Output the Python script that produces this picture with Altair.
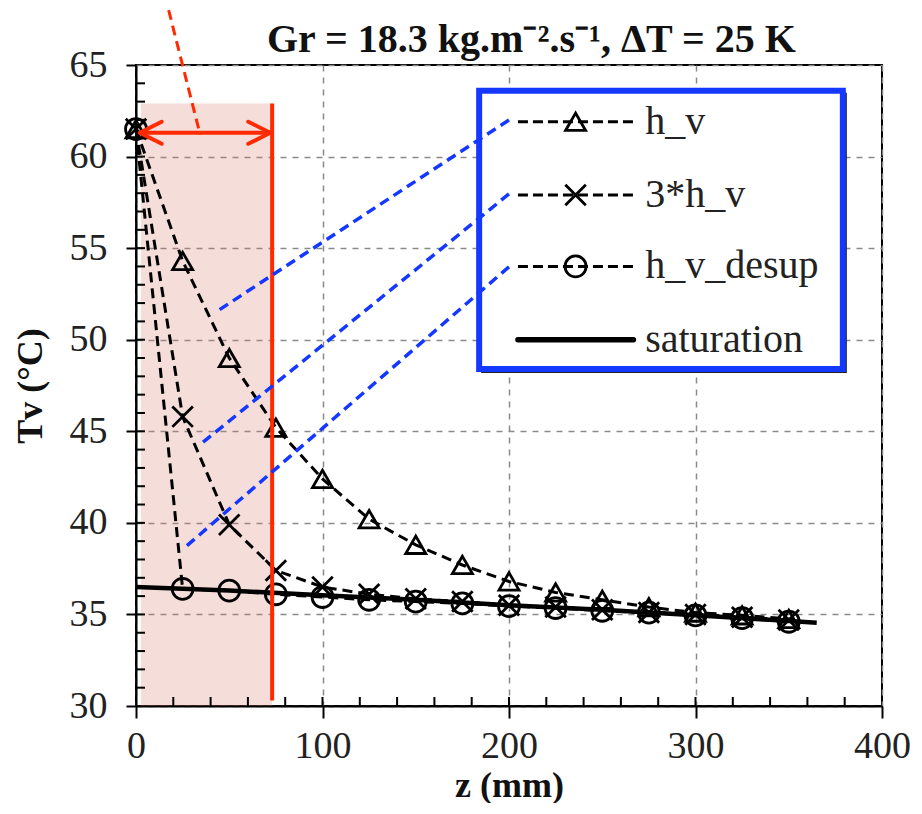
import altair as alt
import pandas as pd

# ---------------- data ----------------
z_pts = [0, 25, 50, 75, 100, 125, 150, 175, 200, 225, 250, 275, 300, 325, 350]
h_v = [61.5, 54.3, 49.0, 45.2, 42.4, 40.2, 38.8, 37.7, 36.8, 36.2, 35.8, 35.4, 35.1, 34.95, 34.75]
h_v3 = [61.5, 45.8, 39.9, 37.4, 36.5, 36.1, 35.85, 35.7, 35.5, 35.4, 35.25, 35.1, 35.0, 34.85, 34.7]
h_v_desup = [61.5, 36.4, 36.3, 36.1, 35.95, 35.8, 35.7, 35.6, 35.45, 35.35, 35.2, 35.1, 34.95, 34.8, 34.6]
sat_z = [0, 50, 100, 150, 200, 250, 300, 365]
sat_T = [36.5, 36.3, 36.05, 35.8, 35.5, 35.25, 34.95, 34.55]
series_names = ["h_v", "3*h_v", "h_v_desup"]
legend_labels = ["h_v", "3*h_v", "h_v_desup", "saturation"]
x_ticks = [0, 100, 200, 300, 400]
y_ticks = [30, 35, 40, 45, 50, 55, 60, 65]
x_minor = list(range(20, 400, 20))
y_minor = list(range(31, 65))
title_text = "Gr = 18.3 kg.m⁻².s⁻¹, ΔT = 25 K"

# ---------------- layout / style ----------------
W, H = 746, 641
SERIF = "Liberation Serif"
RED = "#ff2a00"
BLUE = "#1438ff"

xs = alt.Scale(domain=[0, 400], nice=False, zero=False)
ys = alt.Scale(domain=[30, 65], nice=False, zero=False)
x_axis = alt.Axis(values=x_ticks, title="z (mm)", grid=True, gridDash=[6, 6], gridColor="#8a8a8a",
                  gridWidth=1.5, domainColor="black", domainWidth=2, tickColor="black", tickWidth=2,
                  tickSize=12, labelFont=SERIF, labelFontSize=38, labelColor="#222", labelPadding=9,
                  titleFont=SERIF, titleFontSize=36, titleFontWeight="bold", titleColor="#111",
                  titlePadding=3, labelOverlap=False, labelFlush=False, format="d")
y_axis = alt.Axis(values=y_ticks, title="Tv (°C)", grid=True, gridDash=[6, 6], gridColor="#8a8a8a",
                  gridWidth=1.5, domainColor="black", domainWidth=2, tickColor="black", tickWidth=2,
                  tickSize=10, labelFont=SERIF, labelFontSize=38, labelColor="#222", labelPadding=19,
                  titleFont=SERIF, titleFontSize=36, titleFontWeight="bold", titleColor="#111",
                  titlePadding=20, labelOverlap=False, format="d")


def X(f):
    return alt.X(f, type="quantitative", scale=xs, axis=x_axis)


def Y(f):
    return alt.Y(f, type="quantitative", scale=ys, axis=y_axis)


# series table
rows = []
for name, vals in zip(series_names, [h_v, h_v3, h_v_desup]):
    for z, t in zip(z_pts, vals):
        rows.append({"z": z, "T": t, "series": name})
df = pd.DataFrame(rows)
sat_df = pd.DataFrame({"z": sat_z, "T": sat_T})

shape_scale = alt.Scale(domain=series_names,
                        range=["triangle-up", "M-1,-1L1,1M1,-1L-1,1", "circle"])
size_scale = alt.Scale(domain=series_names, range=[400, 440, 330])

# pink highlighted zone
zone_df = pd.DataFrame({"z1": [2.6], "z2": [73], "T1": [30], "T2": [62.9]})
zone = alt.Chart(zone_df).mark_rect(color="#d9776a", opacity=0.25).encode(
    x=X("z1"), x2="z2", y=Y("T1"), y2="T2")

# minor / inner ticks
xt = alt.Chart(pd.DataFrame({"z": x_minor})).mark_rule(color="black", strokeWidth=2).encode(
    x=X("z"), y=alt.value(H), y2=alt.value(H - 9))
yt = alt.Chart(pd.DataFrame({"T": y_minor})).mark_rule(color="black", strokeWidth=2).encode(
    y=Y("T"), x=alt.value(0), x2=alt.value(9))

lines = alt.Chart(df).mark_line(color="black", strokeWidth=3, strokeDash=[10, 6]).encode(
    x=X("z"), y=Y("T"), detail="series:N")
sat = alt.Chart(sat_df).mark_line(color="black", strokeWidth=4.5).encode(x=X("z"), y=Y("T"))
pts = alt.Chart(df).mark_point(color="black", filled=False, strokeWidth=2.8, opacity=1).encode(
    x=X("z"), y=Y("T"),
    shape=alt.Shape("series:N", scale=shape_scale, legend=None),
    size=alt.Size("series:N", scale=size_scale, legend=None))

# red annotations
vline = alt.Chart(pd.DataFrame({"z": [73], "T1": [30.3], "T2": [62.9]})).mark_rule(
    color=RED, strokeWidth=4).encode(x=X("z"), y=Y("T1"), y2="T2")
arrow = alt.Chart(pd.DataFrame({"z1": [2.0], "z2": [72.0], "T": [61.3]})).mark_rule(
    color=RED, strokeWidth=4).encode(x=X("z1"), x2="z2", y=Y("T"))
head_l = alt.Chart(pd.DataFrame({"z": [2.0], "T": [61.3]})).mark_point(
    shape="M2,-1L0,0L2,1", size=484, color=RED, strokeWidth=4, filled=False, opacity=1,
    strokeCap="round", strokeJoin="round").encode(x=X("z"), y=Y("T"))
head_r = alt.Chart(pd.DataFrame({"z": [72.0], "T": [61.3]})).mark_point(
    shape="M-2,-1L0,0L-2,1", size=484, color=RED, strokeWidth=4, filled=False, opacity=1,
    strokeCap="round", strokeJoin="round").encode(x=X("z"), y=Y("T"))
pointer = alt.Chart(pd.DataFrame({"z1": [17.5], "T1": [68.0], "z2": [34.4], "T2": [61.2]})).mark_rule(
    color=RED, strokeWidth=3, strokeDash=[10, 6]).encode(x=X("z1"), y=Y("T1"), x2="z2", y2="T2")

# chart title (drawn as text above the plot so that it sits beside the pointer)
title = alt.Chart(pd.DataFrame({"z": [212], "T": [66.35], "t": [title_text]})).mark_text(
    font=SERIF, fontSize=40, fontWeight="bold", color="#111", align="center", baseline="middle").encode(
    x=X("z"), y=Y("T"), text="t:N")

# legend box
box_df = pd.DataFrame({"z1": [184], "z2": [379], "T1": [48.4], "T2": [63.6]})
shadow = alt.Chart(box_df).mark_rect(fill="white", stroke="#222", strokeWidth=2,
                                     xOffset=3, yOffset=3, x2Offset=3, y2Offset=3).encode(
    x=X("z1"), x2="z2", y=Y("T1"), y2="T2")
box = alt.Chart(box_df).mark_rect(fill="white", stroke=BLUE, strokeWidth=6).encode(
    x=X("z1"), x2="z2", y=Y("T1"), y2="T2")

# blue leader lines
lead_df = pd.DataFrame({"z1": [200, 200, 200], "T1": [62.0, 57.96, 53.98],
                        "z2": [42.7, 34.7, 26.7], "T2": [51.5, 44.3, 38.7]})
leaders = alt.Chart(lead_df).mark_rule(color=BLUE, strokeWidth=3.5, strokeDash=[10, 6]).encode(
    x=X("z1"), y=Y("T1"), x2="z2", y2="T2")

leg_T = [61.9, 57.9, 54.0, 50.0]
leg_df = pd.DataFrame({"label": legend_labels, "T": leg_T})
leg_line_df = pd.DataFrame({"z1": [204.8] * 3, "z2": [266.7] * 3, "T": leg_T[:3]})
leg_lines = alt.Chart(leg_line_df).mark_rule(color="black", strokeWidth=3, strokeDash=[10, 5]).encode(
    x=X("z1"), x2="z2", y=Y("T"))
leg_sat = alt.Chart(pd.DataFrame({"z1": [204.8], "z2": [266.7], "T": [leg_T[3]]})).mark_rule(
    color="black", strokeWidth=5.5, strokeCap="round").encode(x=X("z1"), x2="z2", y=Y("T"))
leg_pts = alt.Chart(pd.DataFrame({"z": [235.7] * 3, "T": leg_T[:3], "series": series_names})).mark_point(
    color="black", filled=False, strokeWidth=2.8, opacity=1).encode(
    x=X("z"), y=Y("T"),
    shape=alt.Shape("series:N", scale=shape_scale, legend=None),
    size=alt.Size("series:N", scale=size_scale, legend=None))
leg_text = alt.Chart(leg_df.assign(z=273)).mark_text(
    align="left", baseline="middle", font=SERIF, fontSize=40, color="#222").encode(
    x=X("z"), y=Y("T"), text="label:N")

chart = alt.layer(
    zone, xt, yt, lines, sat, pts, vline, arrow, head_l, head_r, pointer, title,
    shadow, box, leaders, leg_lines, leg_sat, leg_pts, leg_text
).properties(
    width=W, height=H,
    padding={"left": 4, "top": 0, "right": 0, "bottom": 0},
).configure_view(stroke="black", strokeWidth=2)

chart.save("out.html", embed_options={"renderer": "svg", "actions": False})
